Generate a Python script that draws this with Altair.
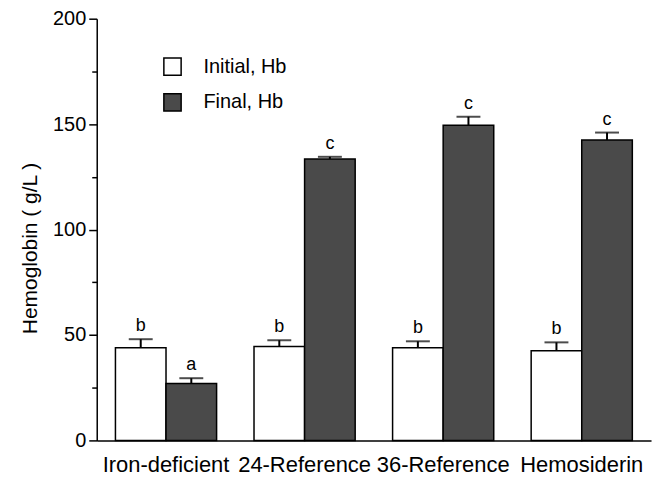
import altair as alt
import pandas as pd

groups = ["Iron-deficient", "24-Reference", "36-Reference", "Hemosiderin"]
series = ["Initial, Hb", "Final, Hb"]
initial = [44.0, 44.5, 44.0, 42.5]
initial_err = [4.0, 3.0, 3.0, 4.0]
final = [27.0, 133.5, 149.5, 142.5]
final_err = [2.5, 1.0, 4.0, 3.5]
initial_letters = ["b", "b", "b", "b"]
final_letters = ["a", "c", "c", "c"]
y_ticks = [0, 25, 50, 75, 100, 125, 150, 175, 200]

rows = []
for i, g in enumerate(groups):
    rows.append({"group": g, "series": series[0], "value": initial[i],
                 "top": initial[i] + initial_err[i], "letter": initial_letters[i]})
    rows.append({"group": g, "series": series[1], "value": final[i],
                 "top": final[i] + final_err[i], "letter": final_letters[i]})
df = pd.DataFrame(rows)

FONT = "Liberation Sans"
YTITLE = "Hemoglobin ( g/L )"

y_axis = alt.Axis(
    values=y_ticks,
    labelExpr="datum.value % 50 === 0 ? datum.label : ''",
    tickSize={"condition": {"test": "datum.value % 50 === 0", "value": 8}, "value": 5},
    tickColor="black", tickWidth=1.5,
    domainColor="black", domainWidth=1.5,
    labelFontSize=20, labelFont=FONT, labelColor="black", labelPadding=3,
    titleFontSize=21, titleFont=FONT, titleColor="black", titleFontWeight="normal",
    titlePadding=12, titleY=230, grid=False,
)
y_scale = alt.Scale(domain=[0, 200], nice=False)

x_enc = alt.X(
    "group:N", sort=groups,
    scale=alt.Scale(paddingInner=0.27, paddingOuter=0.135),
    axis=alt.Axis(title=None, labelAngle=0, ticks=False, labelFontSize=22,
                  labelFont=FONT, labelColor="black", labelPadding=14,
                  labelOverlap=False,
                  domainColor="black", domainWidth=1.5, grid=False),
)
xoff = alt.XOffset("series:N", sort=series, scale=alt.Scale(domain=series))

base = alt.Chart(df).encode(x=x_enc, xOffset=xoff)

bars = base.mark_bar(stroke="black", strokeWidth=1.5).encode(
    y=alt.Y("value:Q", scale=y_scale, axis=y_axis, title=YTITLE),
    color=alt.Color(
        "series:N", sort=series,
        scale=alt.Scale(domain=series, range=["#ffffff", "#4a4a4a"]),
        legend=alt.Legend(
            title=None, orient="none", legendX=66, legendY=38,
            symbolType="square", symbolSize=300, symbolStrokeColor="black",
            symbolStrokeWidth=1.5, labelFontSize=20, labelFont=FONT,
            labelColor="black", labelOffset=21, rowPadding=12, padding=0,
        ),
    ),
)

err = base.mark_rule(color="black", strokeWidth=2).encode(
    y=alt.Y("value:Q", scale=y_scale, axis=y_axis, title=YTITLE),
    y2="top:Q",
)

caps = base.mark_tick(color="black", orient="horizontal", size=24, thickness=2).encode(
    y=alt.Y("top:Q", scale=y_scale, axis=y_axis, title=YTITLE),
)

letters = base.mark_text(dy=-13, baseline="middle", fontSize=18, font=FONT,
                         color="black").encode(
    y=alt.Y("top:Q", scale=y_scale, axis=y_axis, title=YTITLE),
    text="letter:N",
)

chart = alt.layer(bars, err, caps, letters).properties(
    width=556, height=423,
    autosize=alt.AutoSizeParams(type="none"),
    padding={"left": 89, "top": 10, "right": 10, "bottom": 45},
).configure_view(stroke=None)

chart.save("out.html", embed_options={"renderer": "svg", "actions": False})
